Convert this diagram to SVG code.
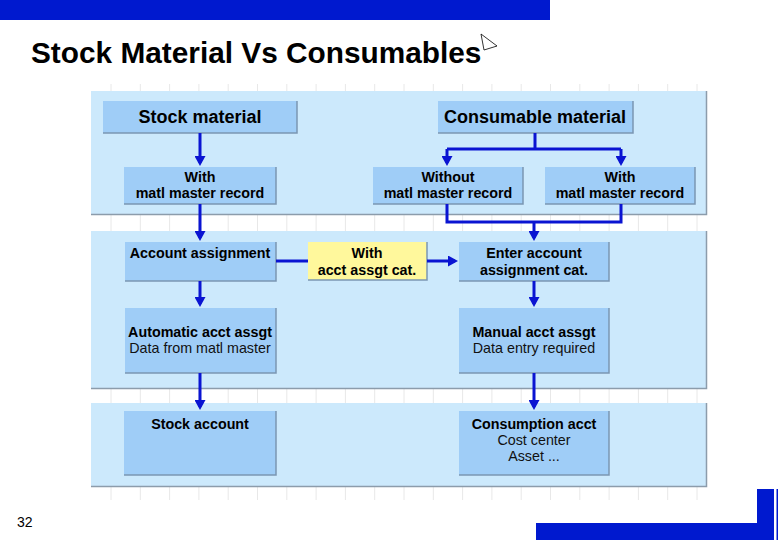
<svg xmlns="http://www.w3.org/2000/svg" width="780" height="540" viewBox="0 0 780 540">
<defs>
<style>
.band{fill:#cce9fc}
.bandedge{fill:none;stroke:#8c9cab;stroke-width:1.5}
.box{fill:#9fcdf7}
.ybox{fill:#fff89c}
.edge{fill:none;stroke:#7b96b2;stroke-width:1.5}
.grid{stroke:#e8e8e8;stroke-width:1}
.conn{fill:none;stroke:#0a14d2;stroke-width:3}
.hd{font-family:"Liberation Sans",Arial,sans-serif;font-weight:bold;font-size:18px;fill:#000;text-anchor:middle}
.b{font-family:"Liberation Sans",Arial,sans-serif;font-weight:bold;font-size:14.3px;fill:#000;text-anchor:middle}
.r{font-family:"Liberation Sans",Arial,sans-serif;font-size:14.3px;fill:#111;text-anchor:middle}
</style>
<marker id="ah" viewBox="0 0 10 11" refX="7" refY="5.5" markerWidth="10" markerHeight="11" markerUnits="userSpaceOnUse" orient="auto">
<path d="M0,0 L10,5.5 L0,11 z" fill="#0a14d2"/>
</marker>
</defs>
<rect width="780" height="540" fill="#fff"/>
<rect x="0" y="0" width="550" height="20" fill="#0019cf"/>
<text x="31" y="63" font-family="'Liberation Sans',Arial,sans-serif" font-weight="bold" font-size="29.8" fill="#000">Stock Material Vs Consumables</text>
<polygon points="481,34 497,46 484,50" fill="#fff" stroke="#000" stroke-width="0.8"/>
<g id="grid">
<path class="grid" d="M111,84V500M140.3,84V500M169.6,84V500M198.9,84V500M228.2,84V500M257.5,84V500M286.8,84V500M316.1,84V500M345.4,84V500M374.7,84V500M404,84V500M433.3,84V500M462.6,84V500M491.9,84V500M521.2,84V500M550.5,84V500M579.8,84V500M609.1,84V500M638.4,84V500M667.7,84V500M697,84V500"/>
</g>
<g id="bands">
<rect class="band" x="91" y="91" width="615" height="123"/>
<path class="bandedge" d="M91,214.5H706.5V91"/>
<rect class="band" x="91" y="231" width="615" height="157"/>
<path class="bandedge" d="M91,388.5H706.5V231"/>
<rect class="band" x="91" y="403" width="615" height="83"/>
<path class="bandedge" d="M91,486.5H706.5V403"/>
</g>
<g id="n-stock-material">
<rect class="box" x="103" y="101" width="194" height="32"/>
<path class="edge" d="M103,133H297V101"/>
<text class="hd" x="200" y="123">Stock material</text>
</g>
<g id="n-consumable-material">
<rect class="box" x="438" y="101" width="195" height="32"/>
<path class="edge" d="M438,133H633V101"/>
<text class="hd" x="535" y="123">Consumable material</text>
</g>
<g id="n-with-left">
<rect class="box" x="124" y="167" width="152" height="37"/>
<path class="edge" d="M124,204H276V167"/>
<text class="b" x="200" y="182">With</text>
<text class="b" x="200" y="198">matl master record</text>
</g>
<g id="n-without">
<rect class="box" x="373" y="167" width="150" height="37"/>
<path class="edge" d="M373,204H523V167"/>
<text class="b" x="448" y="182">Without</text>
<text class="b" x="448" y="198">matl master record</text>
</g>
<g id="n-with-right">
<rect class="box" x="545" y="167" width="150" height="37"/>
<path class="edge" d="M545,204H695V167"/>
<text class="b" x="620" y="182">With</text>
<text class="b" x="620" y="198">matl master record</text>
</g>
<g id="n-account-assignment">
<rect class="box" x="125" y="242" width="151" height="39"/>
<path class="edge" d="M125,281H276V242"/>
<text class="b" x="200" y="258">Account assignment</text>
</g>
<g id="n-with-acct-cat">
<rect class="ybox" x="308" y="242" width="119" height="38"/>
<path class="edge" d="M308,280H427V242"/>
<text class="b" x="367" y="258">With</text>
<text class="b" x="367" y="275">acct assgt cat.</text>
</g>
<g id="n-enter-account">
<rect class="box" x="459" y="242" width="150" height="39"/>
<path class="edge" d="M459,281H609V242"/>
<text class="b" x="534" y="258">Enter account</text>
<text class="b" x="534" y="275">assignment cat.</text>
</g>
<g id="n-automatic">
<rect class="box" x="125" y="308" width="151" height="65"/>
<path class="edge" d="M125,373H276V308"/>
<text class="b" x="200" y="337">Automatic acct assgt</text>
<text class="r" x="200" y="353">Data from matl master</text>
</g>
<g id="n-manual">
<rect class="box" x="459" y="308" width="150" height="65"/>
<path class="edge" d="M459,373H609V308"/>
<text class="b" x="534" y="337">Manual acct assgt</text>
<text class="r" x="534" y="353">Data entry required</text>
</g>
<g id="n-stock-account">
<rect class="box" x="124" y="411" width="152" height="64"/>
<path class="edge" d="M124,475H276V411"/>
<text class="b" x="200" y="429">Stock account</text>
</g>
<g id="n-consumption">
<rect class="box" x="459" y="411" width="150" height="64"/>
<path class="edge" d="M459,475H609V411"/>
<text class="b" x="534" y="429">Consumption acct</text>
<text class="r" x="534" y="445">Cost center</text>
<text class="r" x="534" y="461">Asset ...</text>
</g>
<g id="connectors">
<path class="conn" d="M200,133V163" marker-end="url(#ah)"/>
<path class="conn" d="M535,133V149M447,149H621"/>
<path class="conn" d="M447,149V163" marker-end="url(#ah)"/>
<path class="conn" d="M621,149V163" marker-end="url(#ah)"/>
<path class="conn" d="M200,204V238" marker-end="url(#ah)"/>
<path class="conn" d="M447,204V222H621V204"/>
<path class="conn" d="M534,222V238" marker-end="url(#ah)"/>
<path class="conn" d="M276,261H308"/>
<path class="conn" d="M427,261H455" marker-end="url(#ah)"/>
<path class="conn" d="M200,281V304" marker-end="url(#ah)"/>
<path class="conn" d="M534,281V304" marker-end="url(#ah)"/>
<path class="conn" d="M200,373V407" marker-end="url(#ah)"/>
<path class="conn" d="M534,373V407" marker-end="url(#ah)"/>
</g>
<text x="17" y="527" font-family="'Liberation Sans',Arial,sans-serif" font-size="14" fill="#000">32</text>
<g id="corner">
<rect x="536" y="523" width="238" height="17" fill="#0019cf"/>
<rect x="757" y="489" width="17" height="51" fill="#0019cf"/>
<rect x="776.5" y="489" width="1.5" height="51" fill="#0019cf"/>
</g>
</svg>
